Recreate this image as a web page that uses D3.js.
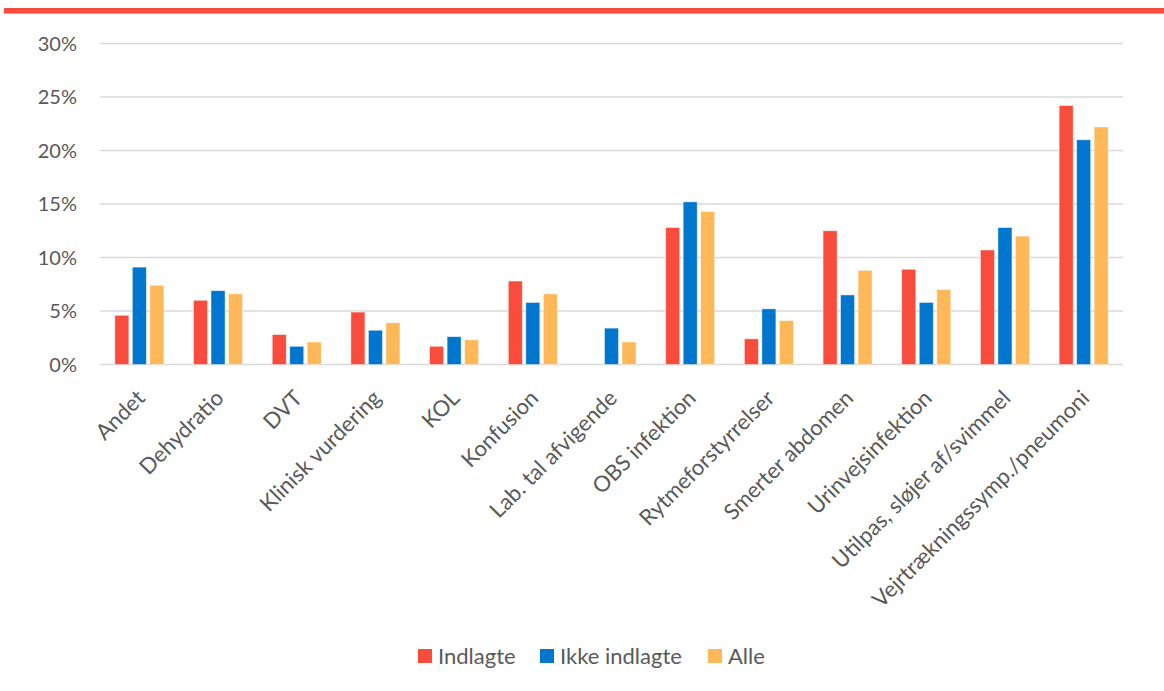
<!DOCTYPE html>
<html>
<head>
<meta charset="utf-8">
<script src="https://cdn.jsdelivr.net/npm/d3@7"></script>
<style>
  html, body { margin: 0; padding: 0; background: #fff; }
  svg { display: block; }
  text { font-family: Lato, "Open Sans", sans-serif; fill: #595959; }
</style>
</head>
<body>
<svg id="chart" width="1164" height="691"></svg>
<script>
const categories = ["Andet", "Dehydratio", "DVT", "Klinisk vurdering", "KOL", "Konfusion",
  "Lab. tal afvigende", "OBS infektion", "Rytmeforstyrrelser", "Smerter abdomen",
  "Urinvejsinfektion", "Utilpas, sløjer af/svimmel", "Vejrtrækningssymp./pneumoni"];
const seriesNames = ["Indlagte", "Ikke indlagte", "Alle"];
const indlagte     = [4.6, 6.0, 2.8, 4.9, 1.7, 7.8, 0.0, 12.8, 2.4, 12.5, 8.9, 10.7, 24.2];
const ikkeIndlagte = [9.1, 6.9, 1.7, 3.2, 2.6, 5.8, 3.4, 15.2, 5.2, 6.5, 5.8, 12.8, 21.0];
const alle         = [7.4, 6.6, 2.1, 3.9, 2.3, 6.6, 2.1, 14.3, 4.1, 8.8, 7.0, 12.0, 22.2];
const yTicks = [0, 5, 10, 15, 20, 25, 30];
const colors = ["#F94C3C", "#0076CE", "#FFB858"];

const seriesValues = [indlagte, ikkeIndlagte, alle];
const svg = d3.select("#chart");

// top accent band
svg.append("rect").attr("x", 4).attr("y", 8).attr("width", 1160).attr("height", 5.6).attr("fill", "#F84B3C");

const plotLeft = 100, plotRight = 1123, plotTop = 43.5, plotBottom = 364.5;
const x0 = d3.scaleBand().domain(categories).range([plotLeft, plotRight]).paddingInner(0).paddingOuter(0);
const x1 = d3.scaleBand().domain(seriesNames).range([-24.5, 24.5]).paddingInner(0.2).paddingOuter(0);
const y = d3.scaleLinear().domain([0, 30]).range([plotBottom, plotTop]);

// gridlines
svg.append("g").selectAll("line").data(yTicks).join("line")
  .attr("x1", plotLeft).attr("x2", plotRight)
  .attr("y1", d => y(d)).attr("y2", d => y(d))
  .attr("stroke", "#D9D9D9").attr("stroke-width", 1.4);

// y labels
svg.append("g").selectAll("text").data(yTicks).join("text")
  .attr("x", 77).attr("y", d => y(d)).attr("dy", "0.36em")
  .attr("text-anchor", "end").style("font-size", "20px")
  .text(d => d + "%");

// bars
const g = svg.append("g");
seriesNames.forEach((s, si) => {
  g.append("g").selectAll("rect").data(categories.map((c, i) => ({c, v: seriesValues[si][i]})))
    .join("rect")
    .filter(d => d.v > 0)
    .attr("x", d => x0(d.c) + x0.bandwidth() / 2 + x1(s))
    .attr("width", x1.bandwidth())
    .attr("y", d => y(d.v))
    .attr("height", d => y(0) - y(d.v))
    .attr("fill", colors[si])
    .attr("stroke", "rgba(255,255,255,0.55)").attr("stroke-width", 0.8);
});

// x labels
svg.append("g").selectAll("text").data(categories).join("text")
  .attr("transform", d => `translate(${x0(d) + x0.bandwidth() / 2 + 7},${plotBottom + 35}) rotate(-45)`)
  .attr("text-anchor", "end")
  .style("font-size", "22px")
  .text(d => d);

// legend
const legendX = [418, 540, 708];
const lg = svg.append("g");
seriesNames.forEach((s, i) => {
  lg.append("rect").attr("x", legendX[i]).attr("y", 649).attr("width", 14).attr("height", 14).attr("fill", colors[i]);
  lg.append("text").attr("x", legendX[i] + 20).attr("y", 656).attr("dy", "0.36em")
    .style("font-size", "22px").text(s);
});
</script>
</body>
</html>
